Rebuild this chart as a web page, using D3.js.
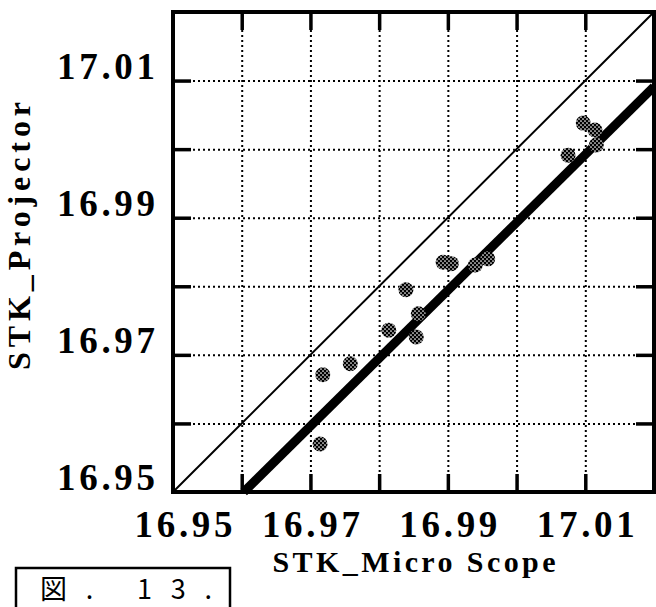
<!DOCTYPE html>
<html>
<head>
<meta charset="utf-8">
<script src="https://cdn.jsdelivr.net/npm/d3@7"></script>
<style>
  html, body { margin: 0; padding: 0; background: #fff; }
  svg { display: block; }
</style>
</head>
<body>
<svg id="chart" width="656" height="607"></svg>
<script>
// ---- data ----
const microScope = [16.9714, 16.9718, 16.9758, 16.9814, 16.9839, 16.9857, 16.9854, 16.9893, 16.9905, 16.9940, 16.9958, 17.0075, 17.0097, 17.0114, 17.0116];
const projector  = [16.9570, 16.9671, 16.9687, 16.9736, 16.9795, 16.9760, 16.9726, 16.9835, 16.9833, 16.9831, 16.9840, 16.9991, 17.0038, 17.0028, 17.0006];
const fitX = [16.9603, 17.02];
const fitY = [16.95, 17.0091];
const identity = [16.95, 17.02];
const gridValues = [16.96, 16.97, 16.98, 16.99, 17.00, 17.01];
const tickLabels = [16.95, 16.97, 16.99, 17.01];
const xTitle = "STK_Micro Scope";
const yTitle = "STK_Projector";
const figLabel = "図. 13.";

// ---- layout ----
const svg = d3.select("#chart");
const L = 173, T = 12, W = 481, H = 480;
const x = d3.scaleLinear().domain([16.95, 17.02]).range([L, L + W]);
const y = d3.scaleLinear().domain([16.95, 17.02]).range([T + H, T]);
const serif = "'Liberation Serif', 'Times New Roman', serif";

// stipple pattern for the dots
const defs = svg.append("defs");
const pat = defs.append("pattern").attr("id", "stip").attr("patternUnits", "userSpaceOnUse")
  .attr("width", 4).attr("height", 4);
pat.append("rect").attr("width", 4).attr("height", 4).attr("fill", "#000");
pat.append("circle").attr("cx", 1).attr("cy", 1).attr("r", 0.85).attr("fill", "#fff");
pat.append("circle").attr("cx", 3).attr("cy", 3).attr("r", 0.85).attr("fill", "#fff");

// dotted grid
const gridX = svg.append("g").attr("transform", `translate(0,${T + H})`)
  .call(d3.axisBottom(x).tickValues(gridValues).tickSize(-H).tickFormat(""));
const gridY = svg.append("g").attr("transform", `translate(${L},0)`)
  .call(d3.axisLeft(y).tickValues(gridValues).tickSize(-W).tickFormat(""));
[gridX, gridY].forEach(g => {
  g.select(".domain").remove();
  g.selectAll(".tick line").attr("stroke", "#000").attr("stroke-width", 2).attr("stroke-dasharray", "2,3");
});

// inward ticks on all four sides
const tk = 18;
const ticks = [
  svg.append("g").attr("transform", `translate(0,${T + H})`).call(d3.axisBottom(x).tickValues(gridValues).tickSize(-tk).tickFormat("")),
  svg.append("g").attr("transform", `translate(0,${T})`).call(d3.axisTop(x).tickValues(gridValues).tickSize(-tk).tickFormat("")),
  svg.append("g").attr("transform", `translate(${L},0)`).call(d3.axisLeft(y).tickValues(gridValues).tickSize(-tk).tickFormat("")),
  svg.append("g").attr("transform", `translate(${L + W},0)`).call(d3.axisRight(y).tickValues(gridValues).tickSize(-tk).tickFormat(""))
];
ticks.forEach(g => {
  g.select(".domain").remove();
  g.selectAll(".tick line").attr("stroke", "#000").attr("stroke-width", 3.5);
});

// identity line (thin)
const line = d3.line().x(d => x(d[0])).y(d => y(d[1]));
svg.append("path").datum(identity.map(v => [v, v])).attr("d", line)
  .attr("stroke", "#000").attr("stroke-width", 2).attr("fill", "none");

// fit line (thick)
svg.append("path").datum(fitX.map((v, i) => [v, fitY[i]])).attr("d", line)
  .attr("stroke", "#000").attr("stroke-width", 9).attr("fill", "none");

// points
svg.append("g").selectAll("circle").data(microScope.map((v, i) => [v, projector[i]]))
  .join("circle").attr("cx", d => x(d[0])).attr("cy", d => y(d[1])).attr("r", 7.5)
  .attr("fill", "url(#stip)");

// frame
svg.append("rect").attr("x", L).attr("y", T).attr("width", W).attr("height", H)
  .attr("fill", "none").attr("stroke", "#000").attr("stroke-width", 4);

// tick labels
const labX = svg.append("g").attr("transform", `translate(0,${T + H})`)
  .call(d3.axisBottom(x).tickValues(tickLabels).tickSize(0).tickPadding(19).tickFormat(d3.format(".2f")));
const labY = svg.append("g").attr("transform", `translate(${L},0)`)
  .call(d3.axisLeft(y).tickValues(tickLabels).tickSize(0).tickPadding(18).tickFormat(d3.format(".2f")));
[labX, labY].forEach(g => {
  g.select(".domain").remove();
  g.selectAll(".tick text").attr("font-family", serif).attr("font-weight", "bold")
    .attr("font-size", 37).attr("fill", "#000")
    .attr("textLength", 98).attr("lengthAdjust", "spacing");
});
labY.selectAll(".tick text").attr("dy", "-0.06em");
labX.selectAll(".tick text").attr("dx", (d, i) => i === 0 ? 10 : 0);

// axis titles
svg.append("text").attr("x", 414).attr("y", 572).attr("text-anchor", "middle")
  .attr("font-family", serif).attr("font-weight", "bold").attr("font-size", 30)
  .attr("textLength", 283).attr("lengthAdjust", "spacing").text(xTitle);
svg.append("text").attr("transform", "translate(30,236) rotate(-90)").attr("text-anchor", "middle")
  .attr("font-family", serif).attr("font-weight", "bold").attr("font-size", 32)
  .attr("textLength", 268).attr("lengthAdjust", "spacing").text(yTitle);

// figure label box
svg.append("rect").attr("x", 16).attr("y", 568).attr("width", 214).attr("height", 50)
  .attr("fill", "none").attr("stroke", "#000").attr("stroke-width", 2.5);
svg.append("text").attr("x", 40).attr("y", 599)
  .attr("font-family", "'Noto Sans CJK JP', sans-serif").attr("font-size", 27)
  .attr("textLength", 172).attr("lengthAdjust", "spacing").text(figLabel);
</script>
</body>
</html>
